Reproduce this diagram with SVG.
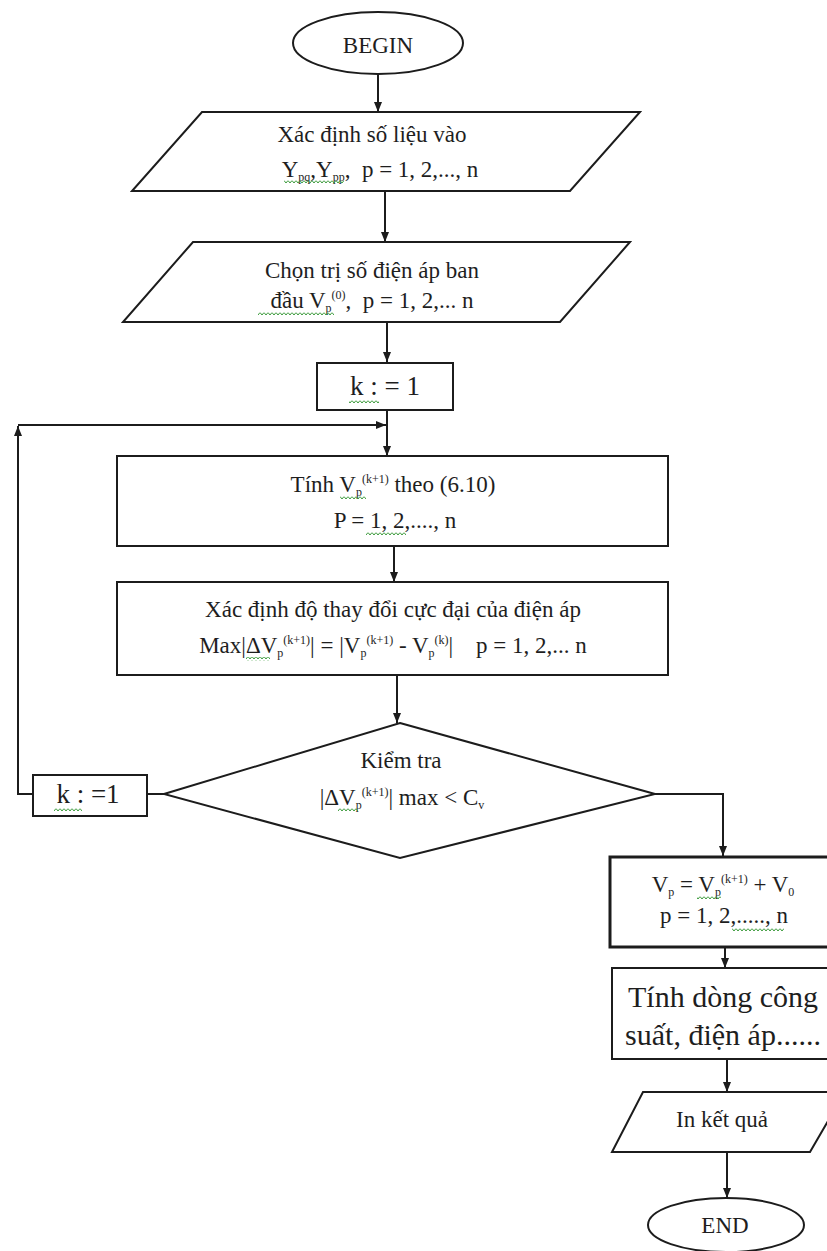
<svg xmlns="http://www.w3.org/2000/svg" width="827" height="1251" viewBox="0 0 827 1251">
<style>
.sh{fill:#fff;stroke:#1c1c1c;stroke-width:2}
.thick{stroke-width:3}
.ln{fill:none;stroke:#1c1c1c;stroke-width:2}
.t{font-family:"Liberation Serif","DejaVu Serif",serif;font-size:23px;fill:#1e1e1e;text-anchor:middle;white-space:pre}
.big{font-size:30px}
.k{font-size:27px}
.s{font-size:12px}
.wv{fill:url(#wave)}
</style>
<defs>
<marker id="ah" viewBox="0 0 10 10" refX="10" refY="5" markerWidth="10" markerHeight="10" markerUnits="userSpaceOnUse" orient="auto">
<path d="M0 1 L10 5 L0 9 Z" fill="#1c1c1c"/>
</marker>
<pattern id="wave" width="4" height="4" patternUnits="userSpaceOnUse">
<path d="M0 0.5 L2 3 L4 0.5" fill="none" stroke="#3a9a3a" stroke-width="1"/>
</pattern>
</defs>
<rect width="827" height="1251" fill="#fff"/>

<g id="connectors">
<line class="ln" x1="378" y1="74" x2="378" y2="112" marker-end="url(#ah)"/>
<line class="ln" x1="385" y1="191" x2="385" y2="242" marker-end="url(#ah)"/>
<line class="ln" x1="387" y1="322" x2="387" y2="362" marker-end="url(#ah)"/>
<line class="ln" x1="387" y1="410" x2="387" y2="456" marker-end="url(#ah)"/>
<line class="ln" x1="394" y1="546" x2="394" y2="582" marker-end="url(#ah)"/>
<line class="ln" x1="397" y1="675" x2="397" y2="723" marker-end="url(#ah)"/>
<line class="ln" x1="147" y1="794" x2="164" y2="794"/>
<polyline class="ln" points="33,794 18,794 18,426" marker-end="url(#ah)"/>
<line class="ln" x1="18" y1="425" x2="386" y2="425" marker-end="url(#ah)"/>
<polyline class="ln" points="655,794 723,794 723,856" marker-end="url(#ah)"/>
<line class="ln" x1="725" y1="947" x2="725" y2="968" marker-end="url(#ah)"/>
<line class="ln" x1="727" y1="1059" x2="727" y2="1092" marker-end="url(#ah)"/>
<line class="ln" x1="727" y1="1152" x2="727" y2="1198" marker-end="url(#ah)"/>
</g>

<g id="begin">
<ellipse class="sh" cx="378" cy="43" rx="85" ry="31"/>
<text class="t" x="378" y="53">BEGIN</text>
</g>

<g id="input-data">
<polygon class="sh" points="202,112 640,112 570,191 132,191"/>
<text class="t" x="372" y="142">Xác định số liệu vào</text>
<text class="t" x="380" y="177">Y<tspan class="s" baseline-shift="-4">pq</tspan>,Y<tspan class="s" baseline-shift="-4">pp</tspan>,  p = 1, 2,..., n</text>
<rect class="wv" x="284" y="180" width="60" height="4"/>
</g>

<g id="initial-voltage">
<polygon class="sh" points="193,242 630,242 560,322 123,322"/>
<text class="t" x="372" y="278">Chọn trị số điện áp ban</text>
<text class="t" x="372" y="308">đầu V<tspan class="s" baseline-shift="-4">p</tspan><tspan class="s" baseline-shift="9">(0)</tspan>,  p = 1, 2,... n</text>
<rect class="wv" x="258" y="311" width="76" height="4"/>
</g>

<g id="k-init">
<rect class="sh" x="317" y="363" width="136" height="47"/>
<text class="t k" x="385" y="395">k : = 1</text>
<rect class="wv" x="349" y="399" width="30" height="4"/>
</g>

<g id="compute-v">
<rect class="sh" x="117" y="456" width="551" height="90"/>
<text class="t" x="393" y="492">Tính V<tspan class="s" baseline-shift="-4">p</tspan><tspan class="s" baseline-shift="9">(k+1)</tspan> theo (6.10)</text>
<text class="t" x="395" y="528">P = 1, 2,...., n</text>
<rect class="wv" x="340" y="496" width="26" height="4"/>
<rect class="wv" x="366" y="532" width="40" height="4"/>
</g>

<g id="max-change">
<rect class="sh" x="117" y="582" width="551" height="93"/>
<text class="t" x="393" y="617">Xác định độ thay đổi cực đại của điện áp</text>
<text class="t" x="393" y="653">Max|ΔV<tspan class="s" baseline-shift="-4">p</tspan><tspan class="s" baseline-shift="9">(k+1)</tspan>| = |V<tspan class="s" baseline-shift="-4">p</tspan><tspan class="s" baseline-shift="9">(k+1)</tspan> - V<tspan class="s" baseline-shift="-4">p</tspan><tspan class="s" baseline-shift="9">(k)</tspan>|    p = 1, 2,... n</text>
<rect class="wv" x="246" y="657" width="24" height="4"/>
</g>

<g id="check">
<polygon class="sh" points="400,723 655,794 400,858 164,794"/>
<text class="t" x="401" y="768">Kiểm tra</text>
<text class="t" x="402" y="805">|ΔV<tspan class="s" baseline-shift="-4">p</tspan><tspan class="s" baseline-shift="9">(k+1)</tspan>| max &lt; C<tspan class="s" baseline-shift="-4">v</tspan></text>
<rect class="wv" x="338" y="808" width="20" height="4"/>
</g>

<g id="k-increment">
<rect class="sh" x="33" y="775" width="114" height="41"/>
<text class="t k" x="88" y="803">k : =1</text>
<rect class="wv" x="54" y="807" width="28" height="4"/>
</g>

<g id="result-voltage">
<rect class="sh thick" x="610" y="857" width="240" height="90"/>
<text class="t" x="723" y="892">V<tspan class="s" baseline-shift="-4">p</tspan> = V<tspan class="s" baseline-shift="-4">p</tspan><tspan class="s" baseline-shift="9">(k+1)</tspan> + V<tspan class="s" baseline-shift="-4">0</tspan></text>
<text class="t" x="724" y="923">p = 1, 2,....., n</text>
<rect class="wv" x="697" y="896" width="24" height="4"/>
<rect class="wv" x="732" y="927" width="52" height="4"/>
</g>

<g id="power-flow">
<rect class="sh" x="612" y="968" width="240" height="91"/>
<text class="t big" x="723" y="1007">Tính dòng công</text>
<text class="t big" x="723" y="1045">suất, điện áp......</text>
</g>

<g id="print">
<polygon class="sh" points="643,1092 845,1092 810,1152 612,1152"/>
<text class="t" x="722" y="1127">In kết quả</text>
</g>

<g id="end">
<ellipse class="sh" cx="726" cy="1225" rx="78" ry="27"/>
<text class="t" x="725" y="1233">END</text>
</g>
</svg>
